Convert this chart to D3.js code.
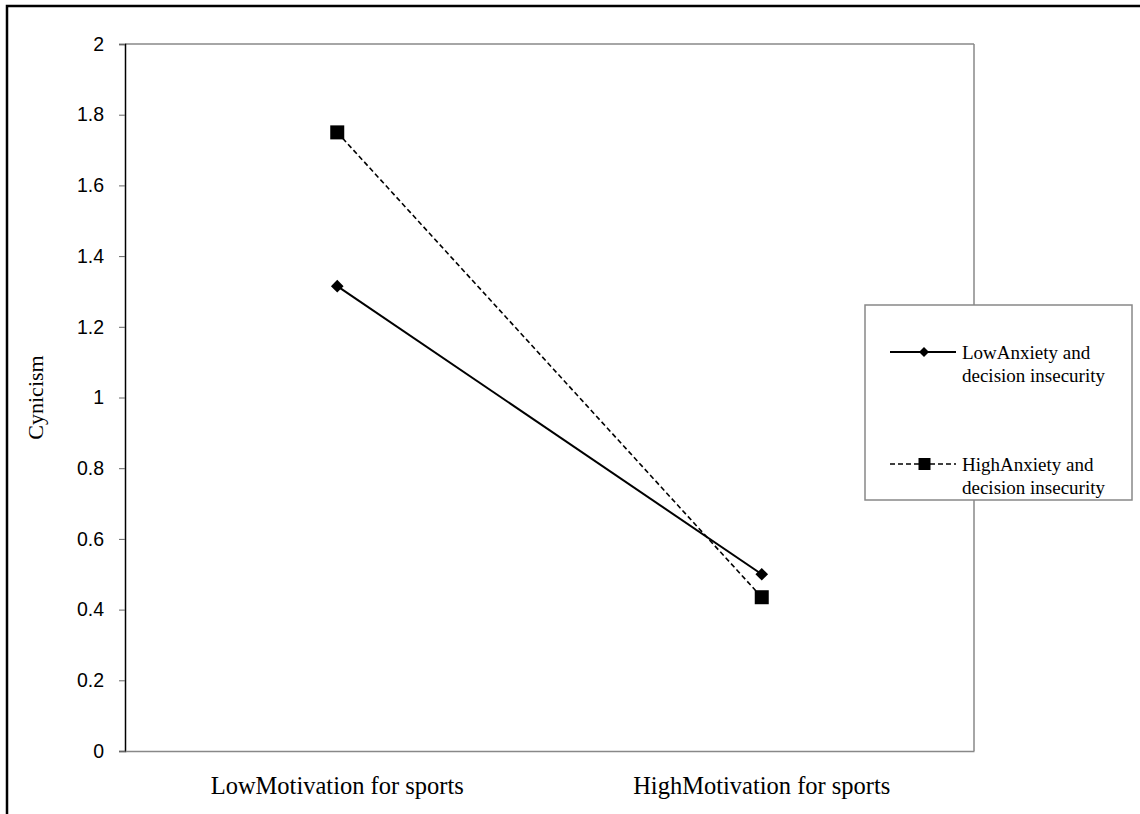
<!DOCTYPE html>
<html><head><meta charset="utf-8">
<script src="https://cdn.jsdelivr.net/npm/d3@7"></script>
<style>body{margin:0;background:#fff}svg{display:block}</style>
</head><body>
<svg id="c" width="1140" height="814"></svg>
<script>
const categories = ["LowMotivation for sports", "HighMotivation for sports"];
const seriesNames = ["LowAnxiety and|decision insecurity", "HighAnxiety and|decision insecurity"];
const lowAnxiety = [1.315, 0.5];
const highAnxiety = [1.75, 0.435];
const yTicks = [0, 0.2, 0.4, 0.6, 0.8, 1, 1.2, 1.4, 1.6, 1.8, 2];
const yTitle = "Cynicism";

const svg = d3.select("#c");
const L = 125, R = 974, T = 44, B = 751;
svg.append("rect").attr("x", 7).attr("y", 6).attr("width", 1150).attr("height", 830)
  .attr("fill", "none").attr("stroke", "#000").attr("stroke-width", 2.5);

const x = d3.scaleBand().domain(categories).range([L, R]);
const y = d3.scaleLinear().domain([0, 2]).range([B, T]);

svg.append("line").attr("x1", L).attr("x2", R).attr("y1", T).attr("y2", T).attr("stroke", "#888").attr("stroke-width", 1.5);
svg.append("line").attr("x1", R).attr("x2", R).attr("y1", T).attr("y2", B).attr("stroke", "#888").attr("stroke-width", 1.5);

const ya = svg.append("g").attr("transform", `translate(${L},0)`)
  .call(d3.axisLeft(y).tickValues(yTicks).tickSize(6).tickPadding(15).tickFormat(d3.format("~g")));
ya.select(".domain").attr("stroke", "#000").attr("stroke-width", 1.5);
ya.selectAll(".tick line").attr("stroke", "#666");
ya.selectAll("text").attr("font-family", "Liberation Sans, Arial").attr("font-size", 19.5).attr("fill", "#000");

const xa = svg.append("g").attr("transform", `translate(0,${B})`)
  .call(d3.axisBottom(x).tickSize(0).tickPadding(26));
xa.select(".domain").attr("stroke", "#888").attr("stroke-width", 1.5);
xa.selectAll("text").attr("font-family", "Liberation Serif, Times New Roman").attr("font-size", 24.5).attr("fill", "#000");

svg.append("text").attr("transform", `translate(43,${(T + B) / 2}) rotate(-90)`)
  .attr("text-anchor", "middle").attr("font-family", "Liberation Serif, Times New Roman")
  .attr("font-size", 22).text(yTitle);

const cx = d => x(d) + x.bandwidth() / 2;
const line = d3.line().x((d, i) => cx(categories[i])).y(d => y(d));

svg.append("path").datum(lowAnxiety).attr("d", line).attr("fill", "none").attr("stroke", "#000").attr("stroke-width", 2);
svg.append("path").datum(highAnxiety).attr("d", line).attr("fill", "none").attr("stroke", "#000").attr("stroke-width", 1.6).attr("stroke-dasharray", "5,3");

const diamond = d3.symbol().type(d3.symbolSquare).size(80);
svg.selectAll(".dm").data(lowAnxiety).enter().append("path")
  .attr("d", diamond).attr("transform", (d, i) => `translate(${cx(categories[i])},${y(d)}) rotate(45)`).attr("fill", "#000");
svg.selectAll(".sq").data(highAnxiety).enter().append("rect")
  .attr("x", (d, i) => cx(categories[i]) - 7).attr("y", d => y(d) - 7)
  .attr("width", 14).attr("height", 14).attr("fill", "#000");

svg.append("rect").attr("x", 865).attr("y", 305).attr("width", 267).attr("height", 195)
  .attr("fill", "#fff").attr("stroke", "#888").attr("stroke-width", 1.5);
const legY = [352, 464];
seriesNames.forEach((nm, i) => {
  const g = svg.append("g");
  g.append("line").attr("x1", 890).attr("x2", 956).attr("y1", legY[i]).attr("y2", legY[i])
    .attr("stroke", "#000").attr("stroke-width", i ? 1.6 : 2).attr("stroke-dasharray", i ? "5,3" : null);
  if (i === 0) g.append("path").attr("d", d3.symbol().type(d3.symbolSquare).size(50)).attr("transform", `translate(924,${legY[i]}) rotate(45)`);
  else g.append("rect").attr("x", 918.5).attr("y", legY[i] - 6).attr("width", 12).attr("height", 12);
  const t = g.append("text").attr("x", 962).attr("y", legY[i] + 7).attr("font-family", "Liberation Serif, Times New Roman").attr("font-size", 19);
  nm.split("|").forEach((s, k) => t.append("tspan").attr("x", 962).attr("dy", k ? 22.5 : 0).text(s));
});
</script>
</body></html>
